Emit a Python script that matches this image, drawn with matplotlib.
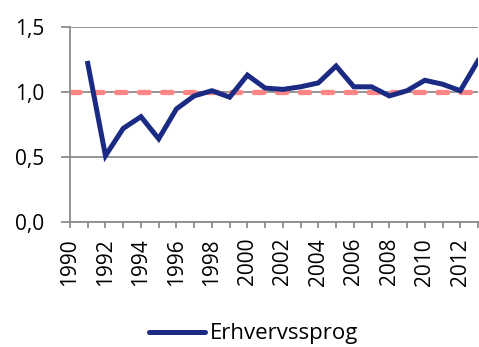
import numpy as np
import matplotlib.pyplot as plt
from matplotlib.lines import Line2D

years = list(range(1990, 2014))
# 1990 has no observation
erhverv = [np.nan, 1.22, 0.51, 0.72, 0.81, 0.64, 0.87, 0.97, 1.01, 0.96,
           1.13, 1.03, 1.02, 1.04, 1.07, 1.20, 1.04, 1.04, 0.97, 1.01,
           1.09, 1.06, 1.01, 1.24]
reference = [1.0] * len(years)
yticks = [0.0, 0.5, 1.0, 1.5]
ytick_labels = ["0,0", "0,5", "1,0", "1,5"]
xtick_years = list(range(1990, 2013, 2))

plt.rcParams['font.family'] = ['Open Sans', 'DejaVu Sans']

fig = plt.figure(figsize=(4.79, 3.47), dpi=100)
ax = fig.add_axes([70 / 479, 1 - 222 / 347, 408 / 479, 195 / 347])

grey = "#8c8c8c"
ax.set_ylim(0, 1.5)
ax.set_xlim(years[0], years[-1])
ax.set_yticks(yticks)
ax.set_yticklabels(ytick_labels, fontsize=15)
ax.set_xticks(years)
ax.set_xticklabels([str(y) if y in xtick_years else "" for y in years],
                   rotation=90, fontsize=15)
ax.yaxis.grid(True, color=grey, linewidth=1.3)
ax.set_axisbelow(True)
for s in ["top", "right"]:
    ax.spines[s].set_visible(False)
for s in ["left", "bottom"]:
    ax.spines[s].set_color(grey)
    ax.spines[s].set_linewidth(1.3)
ax.tick_params(axis="y", length=6.5, width=1.3, color=grey, pad=12)
ax.tick_params(axis="x", length=4.5, width=1.3, color=grey, pad=7)

ax.plot(years, reference, color="#ff8684", linewidth=3.8,
        dashes=(1.85, 2.5), dash_capstyle="round", zorder=2)
ax.plot(years, erhverv, color="#1b2a82", linewidth=3.6, zorder=3,
        solid_joinstyle="miter")

handle = Line2D([], [], color="#1b2a82", linewidth=3.6, solid_capstyle="round")
fig.legend([handle], ["Erhvervssprog"], loc="center",
           bbox_to_anchor=(254 / 479, 1 - 334 / 347), frameon=False,
           fontsize=16, handlelength=2.5, handletextpad=0.25,
           borderpad=0, borderaxespad=0)

fig.savefig("out.png", dpi=100)
